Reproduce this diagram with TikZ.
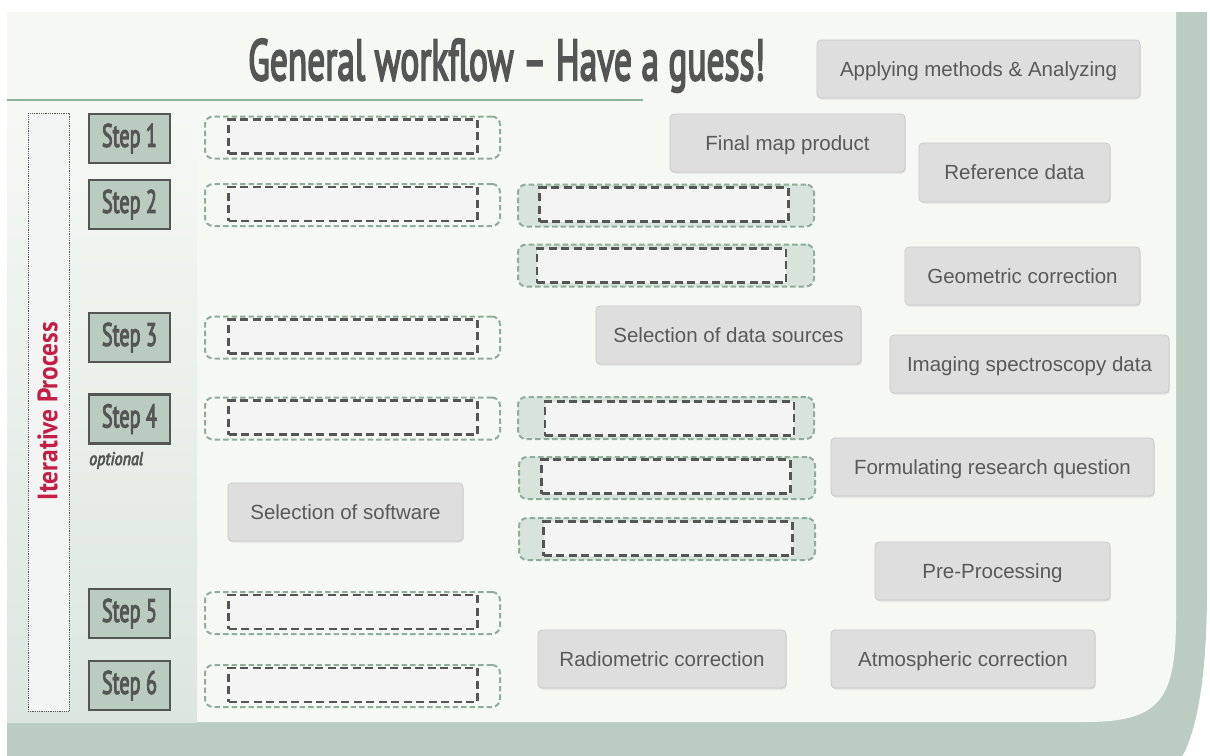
\documentclass[tikz,border=0pt]{standalone}
\usepackage{fontspec}
\setmainfont{Liberation Sans}
\newfontfamily\condfont[Ligatures=TeX, FakeBold=4]{PT Sans}
\newfontfamily\condbold[Ligatures=TeX]{PT Sans Bold}
\usetikzlibrary{shadows}
\definecolor{bandgreen}{HTML}{BBCDC2}
\definecolor{panelbg}{HTML}{F6F8F4}
\definecolor{colshade}{HTML}{DCE6DF}
\definecolor{ruleline}{HTML}{8FB09B}
\definecolor{stepfill}{HTML}{BACBBF}
\definecolor{darkgray}{HTML}{555555}
\definecolor{boxfill}{HTML}{DEDEDE}
\definecolor{boxedge}{HTML}{C9C9C9}
\definecolor{boxtext}{HTML}{595959}
\definecolor{slotgreen}{HTML}{8EAE99}
\definecolor{slotfill}{HTML}{D8E4DB}
\definecolor{innerfill}{HTML}{F4F4F4}
\definecolor{iterred}{HTML}{C41E45}
\definecolor{iterfill}{HTML}{F3F5F5}
\newcommand{\fitto}[3]{\resizebox{#1}{#2}{#3}}
\begin{document}
\begin{tikzpicture}[x=1pt,y=-1pt,
  graybox/.style={draw=boxedge, fill=boxfill, line width=0.8pt, rounded corners=4pt,
    text=boxtext, font=\fontsize{20.5}{24}\selectfont, inner sep=0pt,
    text height=14pt, text depth=0pt,
    drop shadow={opacity=0.18, shadow xshift=0.8pt, shadow yshift=-1.5pt}},
  stepbox/.style={draw=darkgray, fill=stepfill, line width=2.4pt, inner sep=0pt,
    minimum width=81pt, minimum height=49pt, text=darkgray},
  slotout/.style={draw=slotgreen, line width=2pt, dash pattern=on 5.5pt off 3pt,
    rounded corners=8pt, minimum width=295pt, minimum height=42pt, inner sep=0pt},
  slotmid/.style={slotout, fill=slotfill, minimum width=296pt},
  slotin/.style={draw=darkgray, fill=innerfill, line width=2.5pt, dash pattern=on 8pt off 4.5pt,
    minimum width=249pt, minimum height=34pt, inner sep=0pt},
]
\useasboundingbox (0,0) rectangle (1210,755);
\fill[white] (0,0) rectangle (1210,755);
% green frame band
\fill[bandgreen] (7,12) -- (1207,12) -- (1207,590)
  .. controls (1207,680) and (1196,735) .. (1180,760) -- (7,760) -- cycle;
% panel
\fill[panelbg] (7,12) -- (1176,12) -- (1176,617)
  .. controls (1176,700) and (1160,722) .. (1085,722) -- (7,722) -- cycle;
% left column shading
\shade[top color=panelbg, bottom color=colshade] (7,108) rectangle (197,722);
% title
\node[anchor=base west, inner sep=0pt, text=darkgray] (title) at (248,80)
  {\fitto{517pt}{41pt}{\condfont General workflow – Have a guess!}};
\draw[ruleline, line width=2.5pt] (7,100) -- (643,100);

% iterative process
\node[draw=darkgray, fill=iterfill, line width=0.8pt, dash pattern=on 1pt off 0.8pt,
  minimum width=41pt, minimum height=598pt, inner sep=0pt] (iterbox) at (48.5,412) {};
\node[rotate=90, inner sep=0pt, text=iterred] (iterlabel) at (47.5,411)
  {\fitto{178pt}{20pt}{\condbold Iterative Process}};

% steps
\node[stepbox] (s1) at (129.5,138.5) {\fitto{55pt}{23pt}{\condfont Step 1}};
\node[stepbox] (s2) at (129.5,204.5) {\fitto{55pt}{23pt}{\condfont Step 2}};
\node[stepbox] (s3) at (129.5,337.5) {\fitto{55pt}{23pt}{\condfont Step 3}};
\node[stepbox] (s4) at (129.5,419) {\fitto{55pt}{23pt}{\condfont Step 4}};
\node[stepbox] (s5) at (129.5,613.5) {\fitto{55pt}{23pt}{\condfont Step 5}};
\node[stepbox] (s6) at (129.5,685.5) {\fitto{55pt}{23pt}{\condfont Step 6}};
\node[anchor=base west, inner sep=0pt, text=darkgray] (optional) at (89,465)
  {\fitto{54pt}{13pt}{\condfont\itshape optional}};

% left slots
\node[slotout] (l1o) at (352.5,137.5) {};
\node[slotin]  (l1i) at (353,136.5) {};
\node[slotout] (l2o) at (352.5,205) {};
\node[slotin]  (l2i) at (353,204) {};
\node[slotout] (l3o) at (352.5,337.5) {};
\node[slotin]  (l3i) at (353,336.5) {};
\node[slotout] (l4o) at (352.5,418.5) {};
\node[slotin]  (l4i) at (353,417.5) {};
\node[slotout] (l5o) at (352.5,613) {};
\node[slotin]  (l5i) at (353,612) {};
\node[slotout] (l6o) at (352.5,686) {};
\node[slotin]  (l6i) at (353,685) {};

% middle slots
\node[slotmid] (m1o) at (666,205.5) {};
\node[slotin]  (m1i) at (664,204.5) {};
\node[slotmid] (m2o) at (666,265.5) {};
\node[slotin]  (m2i) at (661.5,265.5) {};
\node[slotmid] (m3o) at (666,418) {};
\node[slotin]  (m3i) at (669.5,418.5) {};
\node[slotmid] (m4o) at (667,478) {};
\node[slotin]  (m4i) at (666,476.5) {};
\node[slotmid] (m5o) at (667,539) {};
\node[slotin]  (m5i) at (668,538.5) {};

% gray answer boxes
\node[graybox, minimum width=323pt, minimum height=58pt] (apply) at (978.5,69) {Applying methods \& Analyzing};
\node[graybox, minimum width=235pt, minimum height=58pt] (final) at (787.5,143) {Final map product};
\node[graybox, minimum width=191pt, minimum height=59pt] (refdata) at (1014.5,172.5) {Reference data};
\node[graybox, minimum width=235pt, minimum height=58pt] (geo) at (1022.5,276) {Geometric correction};
\node[graybox, minimum width=265pt, minimum height=58pt] (seldata) at (728.5,335) {Selection of data sources};
\node[graybox, minimum width=279pt, minimum height=58pt] (imaging) at (1029.5,364) {Imaging spectroscopy data};
\node[graybox, minimum width=323pt, minimum height=58pt] (formul) at (992.5,467) {Formulating research question};
\node[graybox, minimum width=235pt, minimum height=58pt] (software) at (345.5,512) {Selection of software};
\node[graybox, minimum width=235pt, minimum height=58pt] (preproc) at (992.5,571) {Pre-Processing};
\node[graybox, minimum width=248pt, minimum height=58pt] (radio) at (662,659) {Radiometric correction};
\node[graybox, minimum width=264pt, minimum height=58pt] (atmos) at (963,659) {Atmospheric correction};
\end{tikzpicture}
\end{document}
